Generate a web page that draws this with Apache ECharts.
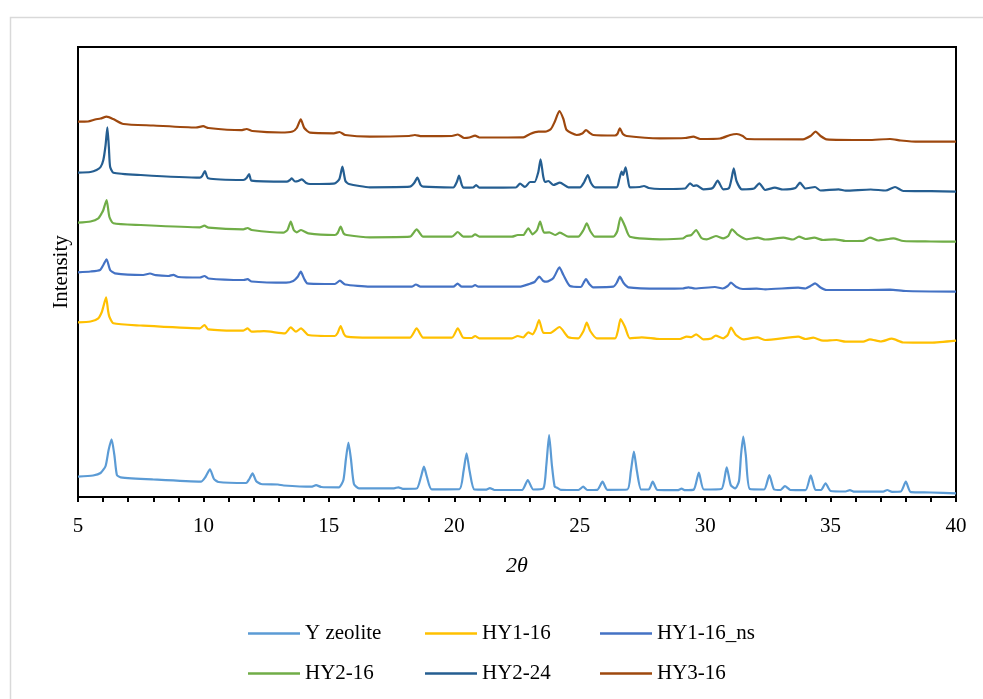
<!DOCTYPE html>
<html>
<head>
<meta charset="utf-8">
<script src="https://cdn.jsdelivr.net/npm/echarts@6/dist/echarts.min.js"></script>
<style>
html,body{margin:0;padding:0;background:#fff;}
#chart{width:983px;height:699px;}
</style>
</head>
<body>
<div id="chart"></div>
<script>
// Series names and colours
const seriesNames = ['Y zeolite', 'HY1-16', 'HY1-16_ns', 'HY2-16', 'HY2-24', 'HY3-16'];
const seriesColors = ['#5B9BD5', '#FFC000', '#4472C4', '#70AD47', '#255E91', '#9E480E'];
const xTicks = [5, 10, 15, 20, 25, 30, 35, 40];

// [2theta, offset intensity] (arbitrary units)
const yZeolite = [[5.0,20.3],[5.6,21.5],[5.9,24],[6.1,31],[6.22,47],[6.34,57.7],[6.45,42],[6.55,22],[6.7,19.7],[8.0,17.5],[9.9,15.3],[10.08,20],[10.26,27.7],[10.42,18],[10.6,15],[11.7,14],[11.83,18],[11.96,23.7],[12.1,16],[12.3,13],[12.97,12.5],[13.2,11.5],[14.3,10.3],[14.49,11.8],[14.7,10],[15.4,9.7],[15.58,17],[15.68,38],[15.78,54.3],[15.88,38],[16.0,13],[16.2,8.7],[17.6,8.7],[17.77,9.7],[17.95,8.2],[18.5,8.5],[18.67,20],[18.79,30.3],[18.91,20],[19.1,7.7],[20.2,7.8],[20.37,26],[20.49,43.7],[20.61,26],[20.8,7.5],[21.25,7.3],[21.42,8.8],[21.6,7],[22.7,7],[22.93,17],[23.15,7.5],[23.55,8.5],[23.67,32],[23.78,62],[23.89,32],[24.0,10.5],[24.1,9.2],[24.25,7.2],[24.95,7],[25.14,10.3],[25.3,7],[25.7,7.2],[25.91,15.3],[26.1,7.2],[26.9,7.5],[27.04,26],[27.16,45.3],[27.28,26],[27.45,7.5],[27.75,7.5],[27.91,15.3],[28.1,7],[28.9,6.8],[29.06,8.3],[29.2,6.8],[29.55,7.5],[29.75,24.3],[29.95,7.5],[30.65,8],[30.86,29.7],[31.02,12],[31.2,8.5],[31.35,16],[31.43,42],[31.52,60.3],[31.62,42],[31.78,8],[32.35,7.5],[32.56,22],[32.75,7.5],[33.0,7],[33.18,11],[33.4,7],[34.0,6.8],[34.21,21.7],[34.4,7],[34.62,7],[34.8,13.7],[35.0,6],[35.6,5.5],[35.77,6.8],[35.95,5.3],[37.1,5.3],[37.26,7],[37.45,5.2],[37.8,5.5],[38.0,15.3],[38.2,4.8],[39.0,4.5],[40,3.7]];

const hy1_16 = [[5.0,174.7],[5.5,175.5],[5.81,178.7],[5.95,185],[6.01,190.3],[6.12,199.7],[6.2,186],[6.25,180.3],[6.41,173.7],[7.5,171.5],[9.86,168.7],[10.04,172],[10.19,167.7],[11.59,166.3],[11.76,168.7],[11.92,165.3],[12.41,165.8],[13.25,163.7],[13.48,169.7],[13.69,165.3],[13.89,168.7],[14.18,162],[15.24,161],[15.35,164],[15.47,171],[15.6,163],[15.71,160.3],[16.64,159.3],[18.23,159.3],[18.5,168.7],[18.76,159.3],[19.9,159.3],[20.14,168.7],[20.36,159.3],[20.7,159],[20.83,161],[21.0,158.7],[22.3,158.7],[22.53,161],[22.75,159.7],[22.95,164.7],[23.12,162.7],[23.25,168],[23.38,177],[23.55,164.3],[23.82,164],[24.19,170],[24.55,159.7],[24.94,158.7],[25.15,166],[25.28,174.3],[25.42,166],[25.68,158.7],[26.41,158.7],[26.52,166],[26.63,178],[26.8,170.3],[27.0,158.7],[27.47,159.7],[28.2,158],[29.0,158],[29.26,160.3],[29.45,159.8],[29.64,162.7],[29.93,157.7],[30.25,158.5],[30.42,161.3],[30.72,158.7],[30.9,162],[31.03,169.3],[31.23,162],[31.52,157.7],[32.08,159.7],[32.4,157],[33.71,160.3],[34.0,158],[34.31,159.3],[34.7,156.3],[35.24,157],[35.6,155.3],[36.3,155.3],[36.57,157.7],[37.0,155.5],[37.44,158.3],[37.9,154.5],[39.0,154.3],[40,156.3]];

const hy1_16ns = [[5.0,224.7],[5.5,225.5],[5.88,227],[6.01,232],[6.14,237.7],[6.28,227],[6.47,223.7],[7.6,222],[7.87,223.5],[8.1,221.8],[8.6,221],[8.8,222.2],[9.0,220],[9.86,219.5],[10.04,221],[10.2,218.5],[11.6,217],[11.76,217.8],[11.92,215.5],[13.3,214.3],[13.58,216],[13.75,220],[13.88,225.3],[14.02,218],[14.14,213.7],[15.24,213],[15.44,216.3],[15.65,212.5],[16.64,210.3],[18.3,210.3],[18.47,212.5],[18.65,210.3],[19.96,210.3],[20.13,213.3],[20.3,210.3],[20.7,210.3],[20.83,212],[20.96,210.3],[22.6,210.3],[23.02,213.3],[23.2,215],[23.39,220.3],[23.55,216],[23.68,215.3],[23.95,219],[24.19,229.7],[24.35,222],[24.61,211],[25.05,210],[25.15,214],[25.25,218],[25.38,213],[25.54,209.7],[26.34,210.3],[26.47,214],[26.6,220.3],[26.75,214],[26.94,209.7],[28.2,208.3],[29.1,208.5],[29.33,209.7],[29.6,208.5],[30.39,210],[30.7,208.5],[30.9,211],[31.03,214.3],[31.23,210.3],[31.5,208],[32.05,208.3],[32.4,207.7],[33.71,209.3],[34.0,208.5],[34.2,211],[34.38,213.7],[34.6,209.5],[34.84,207],[36.5,207],[37.37,207.3],[38,206],[40,205.3]];

const hy2_16 = [[5.0,274.3],[5.5,275.5],[5.81,278.7],[5.95,284],[6.01,287],[6.14,297],[6.25,280.3],[6.41,273.7],[7.5,272],[9.86,269.7],[10.04,271.3],[10.2,269.3],[11.59,267.7],[11.76,269],[11.92,267],[13.18,264.3],[13.35,267],[13.48,275.3],[13.6,267],[13.72,264.7],[13.89,267],[14.18,263.7],[15.24,262],[15.35,264],[15.47,270.3],[15.59,263.5],[15.71,262],[16.64,259.7],[18.23,260.3],[18.5,267.7],[18.76,260.3],[19.9,260.3],[20.14,265],[20.36,260.3],[20.7,260.5],[20.83,262.7],[21.0,260.3],[22.3,260.3],[22.53,262],[22.75,262],[22.95,268.7],[23.12,262.7],[23.3,267],[23.42,275.3],[23.58,264.3],[23.79,264.7],[24.02,262],[24.21,264.3],[24.55,260.3],[24.94,260.3],[25.15,267],[25.28,273.7],[25.42,266],[25.61,260.3],[26.34,260.3],[26.5,266],[26.63,279.7],[26.8,271],[27.0,260.3],[28.2,257.7],[29.1,258.5],[29.26,261],[29.45,262],[29.64,267],[29.85,259],[30.06,257.7],[30.43,261],[30.72,258.7],[30.92,261],[31.07,267.7],[31.28,262.7],[31.66,257.7],[32.09,259.3],[32.4,257.5],[33.12,259.3],[33.5,257.5],[33.74,260.3],[34.0,258],[34.35,259.3],[34.7,257],[35.17,257.7],[35.6,256],[36.3,256.2],[36.57,259.3],[36.9,256.5],[37.5,258.7],[37.9,256],[39,255.5],[40,255.3]];

const hy2_24 = [[5.0,324.3],[5.5,325],[5.74,327],[5.9,330],[6.01,337],[6.1,352],[6.17,369.7],[6.23,350],[6.28,330.3],[6.41,324.3],[7.5,322],[9.86,319.3],[9.95,321],[10.06,326],[10.19,318.7],[11.59,317],[11.72,319],[11.82,323],[11.92,316.3],[13.32,315.3],[13.45,317],[13.52,318.7],[13.65,315.5],[13.78,316],[13.92,317.7],[14.1,314],[14.25,313],[15.24,313.7],[15.42,318],[15.54,330.3],[15.66,316],[15.8,313],[16.64,309.7],[18.23,310.3],[18.4,314],[18.53,319.3],[18.66,312],[18.76,310.3],[19.96,309.5],[20.1,315],[20.19,321.3],[20.3,312],[20.36,309.3],[20.75,309.5],[20.87,312],[21.0,309.3],[22.45,309.5],[22.62,313.3],[22.82,310],[23.02,315],[23.2,315],[23.35,325],[23.44,337.7],[23.55,320],[23.63,315],[23.75,316],[23.95,312],[24.21,314.3],[24.55,309.7],[25.01,309.7],[25.18,315],[25.32,322],[25.45,314],[25.61,309.7],[26.47,309.7],[26.58,318],[26.67,325.3],[26.73,322],[26.83,329.7],[26.92,318],[27.0,309.7],[27.4,310],[27.56,311],[27.75,309],[28.2,308],[29.2,308.5],[29.4,313.7],[29.53,311],[29.66,311.7],[29.93,307.7],[30.3,309],[30.5,316.3],[30.72,307.7],[30.95,309],[31.05,318],[31.14,328.7],[31.25,316],[31.46,307.7],[31.95,308.5],[32.16,313.7],[32.39,307],[32.78,309.3],[33.1,307.5],[33.6,309],[33.78,314.3],[34.0,308.5],[34.38,310],[34.6,306.5],[35.32,307.7],[35.6,306.3],[36.6,307.5],[37.2,306.5],[37.57,310],[37.9,306],[39,305.8],[40,305.3]];

const hy3_16 = [[5.0,375.3],[5.4,375.5],[5.68,377.5],[5.9,378.5],[6.14,380.3],[6.4,378],[6.81,373],[8.0,371.5],[9.7,369.5],[9.99,370.8],[10.2,369],[11.5,366.8],[11.72,368],[11.95,366],[13.1,364.5],[13.55,365.5],[13.72,369],[13.88,377.7],[14.02,369],[14.25,364.3],[15.2,363.7],[15.42,365],[15.65,362],[16.64,360.3],[18.2,361],[18.43,362],[18.7,360.8],[19.9,361],[20.14,362.5],[20.4,359],[20.6,359.5],[20.83,361.3],[21.0,359.5],[22.75,359.7],[23.02,363],[23.35,365.3],[23.62,365.3],[23.85,368],[24.0,375],[24.19,386],[24.35,378],[24.48,367],[24.88,362],[25.1,363.5],[25.25,367],[25.4,364],[25.54,362],[26.4,361.5],[26.5,363],[26.6,368.7],[26.72,363],[26.87,361],[28.2,358.7],[29.2,359],[29.53,360.3],[29.8,358],[30.6,358.5],[31.0,362],[31.26,363],[31.5,361],[31.66,358],[33.9,357.7],[34.2,361],[34.4,365.3],[34.6,361],[34.84,357.7],[36.5,357],[37.37,358],[37.8,356.5],[38.5,355.3],[40,355.3]];

const seriesData = [yZeolite, hy1_16, hy1_16ns, hy2_16, hy2_24, hy3_16];

const FONT = '"Liberation Serif", "Times New Roman", serif';
const chart = echarts.init(document.getElementById('chart'), null, {renderer: 'canvas'});

const legendPos = [
  {left: 248, top: 623}, {left: 425, top: 623}, {left: 600, top: 623},
  {left: 248, top: 663}, {left: 425, top: 663}, {left: 600, top: 663}
];

const option = {
  animation: false,
  backgroundColor: '#fff',
  graphic: [{
    type: 'rect',
    shape: {x: 10.5, y: 17.5, width: 1100, height: 800},
    style: {fill: 'none', stroke: '#d9d9d9', lineWidth: 1.5},
    silent: true, z: -10
  }],
  grid: {left: 78, right: 27, top: 47, bottom: 202, show: true, borderColor: '#000', borderWidth: 2, backgroundColor: 'transparent'},
  legend: seriesNames.map((n, i) => ({
    data: [n], left: legendPos[i].left, top: legendPos[i].top, padding: 0,
    icon: 'rect', itemWidth: 52, itemHeight: 2.5, itemGap: 0,
    textStyle: {fontFamily: FONT, fontSize: 21, color: '#000'}
  })),
  xAxis: {
    type: 'value', min: 5, max: 40, interval: 5,
    name: '{a|2}{b|θ}', nameLocation: 'middle', nameGap: 58,
    nameTextStyle: {rich: {a: {fontFamily: FONT, fontSize: 22, color: '#000', fontStyle: 'italic'}, b: {fontFamily: FONT, fontSize: 22, color: '#000', fontStyle: 'italic'}}},
    axisLine: {show: true, lineStyle: {color: '#000', width: 2}},
    axisTick: {show: true, inside: false, length: 5, lineStyle: {color: '#000', width: 2}},
    minorTick: {show: true, splitNumber: 5, length: 5, lineStyle: {color: '#000', width: 2}},
    axisLabel: {fontFamily: FONT, fontSize: 21, color: '#000', margin: 19,
      formatter: v => (xTicks.indexOf(v) >= 0 ? String(v) : '')},
    splitLine: {show: false}, minorSplitLine: {show: false}
  },
  yAxis: {
    type: 'value', min: 0, max: 450,
    name: 'Intensity', nameLocation: 'middle', nameGap: 6, nameRotate: 90,
    nameTextStyle: {fontFamily: FONT, fontSize: 21, color: '#000'},
    axisLine: {show: true, lineStyle: {color: '#000', width: 2}},
    axisTick: {show: false}, axisLabel: {show: false}, splitLine: {show: false}
  },
  series: seriesNames.map((n, i) => ({
    name: n, type: 'line', data: seriesData[i], symbol: 'none', showSymbol: false,
    smooth: 0.2, color: seriesColors[i],
    lineStyle: {color: seriesColors[i], width: 2.2}
  }))
};
chart.setOption(option);
</script>
</body>
</html>
